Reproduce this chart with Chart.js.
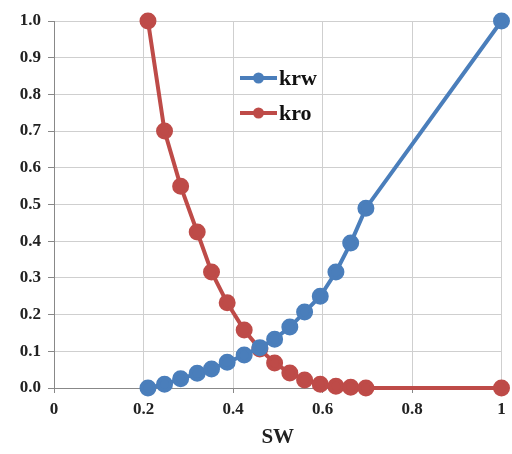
<!DOCTYPE html>
<html>
<head>
<meta charset="utf-8">
<script src="https://cdn.jsdelivr.net/npm/chart.js@4"></script>
<style>
  html, body { margin:0; padding:0; background:#fff; }
  #wrap { width:512px; height:454px; }
</style>
</head>
<body>
<div id="wrap"><canvas id="chart" width="512" height="454"></canvas></div>
<script>
// ===== DATA =====
const swVals  = [0.21, 0.247, 0.283, 0.32, 0.352, 0.387, 0.425, 0.46, 0.493, 0.527, 0.56, 0.595, 0.63, 0.663, 0.697, 1.0];
const krwVals = [0.0, 0.01, 0.025, 0.04, 0.052, 0.07, 0.09, 0.11, 0.133, 0.166, 0.207, 0.25, 0.316, 0.395, 0.49, 1.0];
const kroVals = [1.0, 0.70, 0.55, 0.425, 0.316, 0.232, 0.158, 0.106, 0.068, 0.041, 0.022, 0.01, 0.005, 0.002, 0.0, 0.0];
const seriesNames = ["krw", "kro"];
const seriesColors = ["#4a7ebb", "#be4b48"];

const FONT = "'Liberation Serif', 'DejaVu Serif', serif";

function pts(ys){ return swVals.map((x,i)=>({x, y:ys[i]})); }

// ===== LEGEND (inside plot) =====
const insideLegend = {
  id:"insideLegend",
  afterDatasetsDraw(chart){
    const ctx = chart.ctx;
    const rows = [78, 113];
    seriesNames.forEach((name,i)=>{
      const y = rows[i];
      ctx.save();
      ctx.strokeStyle = seriesColors[i];
      ctx.lineWidth = 4;
      ctx.beginPath(); ctx.moveTo(240,y); ctx.lineTo(277,y); ctx.stroke();
      ctx.fillStyle = seriesColors[i];
      ctx.beginPath(); ctx.arc(258.5,y,5.5,0,Math.PI*2); ctx.fill();
      ctx.fillStyle = "#111";
      ctx.font = "bold 22px " + FONT;
      ctx.textBaseline = "middle";
      ctx.fillText(name, 279, y+1);
      ctx.restore();
    });
  }
};

// ===== CHART =====
const ctx = document.getElementById("chart").getContext("2d");
const chart = new Chart(ctx, {
  type:"scatter",
  data:{
    datasets: seriesNames.map((name,i)=>({
      label:name,
      data: pts(i===0 ? krwVals : kroVals),
      showLine:true,
      borderColor: seriesColors[i],
      backgroundColor: seriesColors[i],
      borderWidth:4,
      pointRadius:6.5,
      pointHoverRadius:6.5,
      clip:false
    }))
  },
  options:{
    responsive:false,
    animation:false,
    layout:{ padding:{ top:21, right:0, left:0, bottom:0 } },
    plugins:{ legend:{display:false}, tooltip:{enabled:false} },
    scales:{
      x:{
        type:"linear", min:0, max:1,
        ticks:{ stepSize:0.2, color:"#222", padding:6,
                font:{family:FONT, size:17, weight:"bold"},
                callback:v=>String(Number(v.toFixed(1))) },
        grid:{ color:"#cfcfcf", tickLength:5, tickColor:"#888" },
        border:{ color:"#888" },
        title:{ display:true, text:"SW", color:"#222", padding:{top:8},
                font:{family:FONT, size:21, weight:"bold"} },
        afterFit(s){ s.height = 66; }
      },
      y:{
        type:"linear", min:0, max:1,
        ticks:{ stepSize:0.1, color:"#222", padding:7,
                font:{family:FONT, size:17, weight:"bold"},
                callback:v=>v.toFixed(1) },
        grid:{ color:"#cfcfcf", tickLength:6, tickColor:"#888" },
        border:{ color:"#888" },
        afterFit(s){ s.width = 54; }
      }
    }
  },
  plugins:[insideLegend]
});
</script>
</body>
</html>
